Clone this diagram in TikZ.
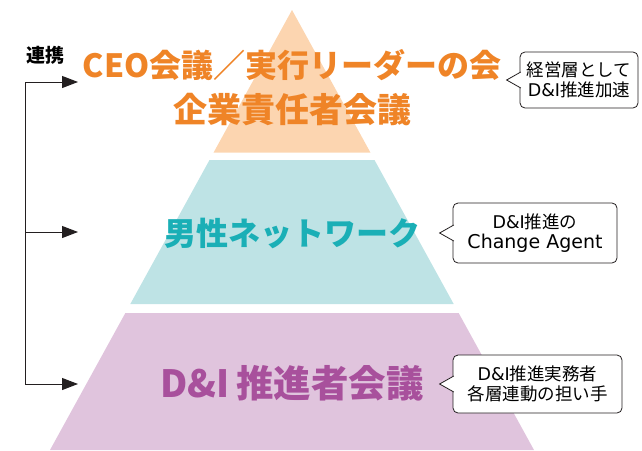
\documentclass[tikz,border=0pt]{standalone}
\usepackage{fontspec}
\setmainfont{Noto Sans CJK JP}
\newfontfamily\lat{DejaVu Sans}
\usetikzlibrary{arrows.meta,calc}
\definecolor{peach}{HTML}{FCD5B0}
\definecolor{tealL}{HTML}{BEE3E5}
\definecolor{pinkL}{HTML}{E0C4DD}
\definecolor{orangeT}{HTML}{EF8427}
\definecolor{tealT}{HTML}{1AAFB6}
\definecolor{magT}{HTML}{A8509C}
\definecolor{ink}{HTML}{231F20}
\begin{document}
\begin{tikzpicture}[x=1pt,y=-1pt,
  lvl/.style={font=\bfseries\fontsize{32}{45}\selectfont, align=center, inner sep=0pt},
  callbox/.style={draw=ink, line width=0.8pt, rounded corners=5pt, fill=white, align=center,
    font=\fontsize{17.5}{20.5}\selectfont, inner sep=0pt},
  ptr/.style={fill=white, draw=ink, line width=0.8pt, line join=miter},
  link/.style={draw=ink, line width=1pt, -{Triangle[length=16pt,width=12pt]}},
  trunk/.style={draw=ink, line width=1pt}
]
\useasboundingbox (0,0) rectangle (642,450);
% pyramid
\fill[peach] (292,10) -- (370.4,152.5) -- (213.6,152.5) -- cycle;
\fill[tealL] (209.5,160) -- (374.5,160) -- (453.7,304) -- (130.3,304) -- cycle;
\fill[pinkL] (125.35,313) -- (458.65,313) -- (534,450) -- (50,450) -- cycle;
% level texts
\node[lvl, text=orangeT] (t1) at (292,88) {CEO会議／実行リーダーの会\\{\fontsize{34}{45}\selectfont 企業責任者会議}};
\node[lvl, text=tealT] (t2) at (292,233) {男性ネットワーク};
\node[lvl, text=magT, font=\bfseries\fontsize{37.5}{40}\selectfont] (t3) at (292,383) {D\&I\,推進者会議};
% callouts
\node[callbox, minimum width=118pt, minimum height=56pt] (c1) at (579,80) {経営層として\\{\lat D\&I}推進加速};
\node[callbox, minimum width=164pt, minimum height=60pt] (c2) at (535,233) {{\lat D\&I}推進の\\{\lat\fontsize{19}{20.5}\selectfont Change Agent}};
\node[callbox, minimum width=169pt, minimum height=58pt] (c3) at (537.5,384) {{\lat D\&I}推進実務者\\各層連動の担い手};
\coordinate (p1) at ($(c1.west)+(-13,0)$);
\coordinate (p2) at ($(c2.west)+(-13,0)$);
\coordinate (p3) at ($(c3.west)+(-13,0)$);
\foreach \c/\p in {c1/p1,c2/p2,c3/p3}{
  \path[ptr] ($(\c.west)+(1.2,-8)$) -- (\p) -- ($(\c.west)+(1.2,8)$);
}
% left link bracket
\node[font=\bfseries\fontsize{19}{22}\selectfont, inner sep=0pt] (lk) at (45,55) {連携};
\coordinate (b1) at (25,82);
\coordinate (b2) at (25,232);
\coordinate (b3) at (25,384);
\coordinate (a1) at (78,82);
\coordinate (a2) at (78,232);
\coordinate (a3) at (78,384);
\draw[trunk] (b1) -- (b3);
\draw[link] (b1) -- (a1);
\draw[link] (b2) -- (a2);
\draw[link] (b3) -- (a3);
\end{tikzpicture}
\end{document}
